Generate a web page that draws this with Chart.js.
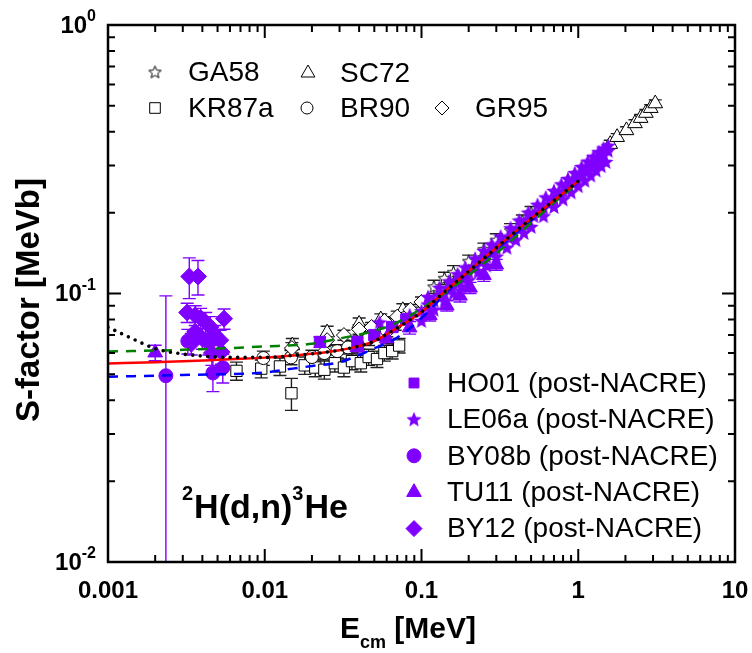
<!DOCTYPE html>
<html>
<head>
<meta charset="utf-8">
<script src="https://cdn.jsdelivr.net/npm/chart.js@4.4.1/dist/chart.umd.min.js"></script>
<style>
  html, body { margin: 0; padding: 0; background: #fff; }
</style>
</head>
<body>
<canvas id="chart" width="752" height="653"></canvas>
<script>
// ---- data (E in MeV, S in MeV b) ----
const GA58_E = [0.12, 0.14, 0.16, 0.2, 0.25, 0.3, 0.37, 0.44, 0.5];
const GA58_S = [0.106, 0.114, 0.12, 0.132, 0.146, 0.158, 0.172, 0.186, 0.2];
const GA58_ERR = [0.006, 0.006, 0.007, 0.007, 0.008, 0.009, 0.01, 0.01, 0.011];

const SC72_E = [0.015, 0.025, 0.04, 0.055, 0.076, 1.6, 1.77, 2.03, 2.3, 2.5, 2.7, 2.9, 3.1];
const SC72_S = [0.064, 0.0715, 0.077, 0.08, 0.0866, 0.36, 0.382, 0.405, 0.43, 0.45, 0.47, 0.49, 0.51];
const SC72_ERR = [0.004, 0.004, 0.004, 0.004, 0.005, 0.012, 0.012, 0.013, 0.014, 0.014, 0.015, 0.015, 0.016];

const KR87A_E = [0.0066, 0.0095, 0.0125, 0.0148, 0.018, 0.021, 0.024, 0.028, 0.032, 0.036, 0.041, 0.046, 0.052, 0.058, 0.065, 0.072];
const KR87A_S = [0.0515, 0.0525, 0.0535, 0.0425, 0.054, 0.053, 0.052, 0.055, 0.053, 0.056, 0.055, 0.058, 0.057, 0.060, 0.061, 0.064];
const KR87A_ERR = [0.004, 0.004, 0.004, 0.0058, 0.004, 0.004, 0.004, 0.004, 0.004, 0.004, 0.004, 0.004, 0.004, 0.004, 0.004, 0.004];

const BR90_E = [0.0098, 0.0147, 0.02, 0.024, 0.029, 0.034, 0.04, 0.046, 0.053, 0.06, 0.068, 0.078];
const BR90_S = [0.0575, 0.0578, 0.058, 0.06, 0.061, 0.063, 0.066, 0.068, 0.071, 0.073, 0.077, 0.081];
const BR90_ERR = [0.0035, 0.0035, 0.0035, 0.0035, 0.0035, 0.0035, 0.004, 0.004, 0.004, 0.004, 0.004, 0.004];

const GR95_E = [0.0149, 0.025, 0.032, 0.04, 0.048, 0.058, 0.07, 0.085, 0.1];
const GR95_S = [0.0626, 0.067, 0.07, 0.0735, 0.075, 0.079, 0.082, 0.087, 0.093];
const GR95_ERR = [0.003, 0.003, 0.003, 0.003, 0.003, 0.003, 0.004, 0.004, 0.004];

const HO01_E = [0.0225, 0.039, 0.05, 0.065, 0.08];
const HO01_S = [0.066, 0.066, 0.07, 0.075, 0.08];
const HO01_ERR = [0.003, 0.003, 0.003, 0.003, 0.003];

const LE06A_E = [
  0.054, 0.084, 0.1, 0.11, 0.12, 0.13, 0.14, 0.15, 0.16, 0.17, 0.18, 0.19, 0.2, 0.22, 0.24, 0.26, 0.28, 0.3,
  0.33, 0.36, 0.39, 0.42, 0.45, 0.48, 0.52, 0.56, 0.6, 0.65, 0.7, 0.75, 0.8, 0.86, 0.92, 0.98, 1.05, 1.12,
  1.2, 1.28, 1.36, 1.45, 1.55,
  0.1, 0.12, 0.14, 0.16, 0.18, 0.2, 0.23, 0.26, 0.3, 0.35, 0.4, 0.45, 0.5, 0.6, 0.7, 0.8, 0.9, 1.0, 1.1,
  1.2, 1.3, 1.4, 1.5,
  0.11, 0.13, 0.15, 0.17, 0.19, 0.22, 0.25, 0.28, 0.32, 0.37, 0.42, 0.48, 0.55, 0.62, 0.7, 0.78, 0.86,
  0.95, 1.05, 1.15, 1.25, 1.35, 1.45, 1.55
];
const LE06A_S = [
  0.078, 0.083, 0.086, 0.091, 0.094, 0.098, 0.1, 0.104, 0.108, 0.11, 0.114, 0.117, 0.12, 0.126, 0.131, 0.137, 0.142, 0.147,
  0.154, 0.161, 0.168, 0.174, 0.181, 0.187, 0.194, 0.201, 0.208, 0.216, 0.225, 0.233, 0.24, 0.249, 0.258, 0.266, 0.276, 0.285,
  0.296, 0.306, 0.316, 0.327, 0.34,
  0.079, 0.087, 0.094, 0.1, 0.106, 0.112, 0.12, 0.127, 0.137, 0.148, 0.158, 0.168, 0.177, 0.194, 0.21, 0.224, 0.238, 0.251, 0.263,
  0.275, 0.287, 0.298, 0.309,
  0.097, 0.105, 0.111, 0.118, 0.125, 0.135, 0.144, 0.152, 0.163, 0.175, 0.187, 0.2, 0.214, 0.228, 0.241, 0.255, 0.267,
  0.281, 0.296, 0.31, 0.323, 0.336, 0.347, 0.355
];

const BY08B_E = [0.00234, 0.00323, 0.00467, 0.0054];
const BY08B_S = [0.0494, 0.0665, 0.0506, 0.0529];
const BY08B_ERR = [0.0486, 0.007, 0.0075, 0.0065];

const TU11_E = [0.002, 0.039, 0.06, 0.084, 0.113, 0.145, 0.176, 0.204, 0.25, 0.3];
const TU11_S = [0.0602, 0.063, 0.068, 0.0746, 0.083, 0.09, 0.098, 0.105, 0.117, 0.128];
const TU11_ERR = [0.004, 0.003, 0.003, 0.004, 0.004, 0.004, 0.005, 0.005, 0.006, 0.006];

const BY12_E = [0.0033, 0.00375, 0.0032, 0.0036, 0.0039, 0.0042, 0.0045, 0.0055, 0.0036, 0.004, 0.0044, 0.0048, 0.0052, 0.0034, 0.0046, 0.0053];
const BY12_S = [0.1157, 0.1157, 0.085, 0.083, 0.081, 0.078, 0.075, 0.0806, 0.072, 0.068, 0.065, 0.07, 0.067, 0.065, 0.06, 0.0605];
const BY12_ERR = [0.02, 0.017, 0.007, 0.007, 0.007, 0.007, 0.007, 0.007, 0.006, 0.006, 0.006, 0.006, 0.006, 0.006, 0.006, 0.006];

// model curves
const RED_E = [0.001, 0.002, 0.003, 0.005, 0.007, 0.01, 0.015, 0.02, 0.03, 0.04, 0.05, 0.07, 0.1, 0.15, 0.2, 0.3, 0.5, 0.7, 1.0];
const RED_S = [0.0549, 0.0555, 0.0559, 0.0566, 0.0571, 0.0577, 0.0587, 0.0596, 0.0615, 0.0637, 0.0665, 0.0745, 0.0854, 0.105, 0.121, 0.148, 0.19, 0.222, 0.262];

const DOT_E = [0.001, 0.0015, 0.002, 0.003, 0.004, 0.005, 0.007, 0.01, 0.015, 0.02, 0.03, 0.04, 0.05, 0.07, 0.1, 0.15, 0.2, 0.3, 0.5, 0.7, 1.0];
const DOT_S = [0.0749, 0.067, 0.0623, 0.0595, 0.0585, 0.058, 0.0578, 0.0578, 0.0587, 0.0596, 0.0615, 0.0637, 0.0665, 0.0745, 0.0854, 0.105, 0.121, 0.148, 0.19, 0.222, 0.262];

const GREEN_E = [0.001, 0.003, 0.01, 0.02, 0.03, 0.05, 0.07, 0.1, 0.15, 0.2, 0.3, 0.5, 0.7, 1.0];
const GREEN_S = [0.0608, 0.0617, 0.0635, 0.065, 0.068, 0.0725, 0.078, 0.088, 0.103, 0.117, 0.141, 0.183, 0.218, 0.258];

const BLUE_E = [0.001, 0.003, 0.01, 0.015, 0.02, 0.03, 0.04, 0.05, 0.07, 0.1, 0.15, 0.2, 0.3, 0.5, 0.7, 1.0];
const BLUE_S = [0.049, 0.0497, 0.0508, 0.0525, 0.0537, 0.0555, 0.059, 0.0625, 0.0685, 0.081, 0.103, 0.12, 0.146, 0.187, 0.221, 0.26];

const X_TICKS = ["0.001", "0.01", "0.1", "1", "10"];
const Y_TICKS = [["10", "0"], ["10", "-1"], ["10", "-2"]];

const PURPLE = "#8000ff";
const FONT = "'Liberation Sans', Arial, sans-serif";

// five-pointed star marker as a small canvas
function starMarker(size, fill, stroke) {
  const c = document.createElement("canvas");
  c.width = size;
  c.height = size;
  const g = c.getContext("2d");
  const R = size / 2 - 1, r = R * 0.45, cx = size / 2, cy = size / 2 + 0.5;
  g.beginPath();
  for (let i = 0; i < 10; i++) {
    const rad = (i % 2 === 0 ? R : r);
    const a = -Math.PI / 2 + i * Math.PI / 5;
    g.lineTo(cx + rad * Math.cos(a), cy + rad * Math.sin(a));
  }
  g.closePath();
  g.fillStyle = fill;
  g.fill();
  if (stroke) {
    g.strokeStyle = stroke;
    g.lineWidth = 1;
    g.stroke();
  }
  return c;
}

const openStar = starMarker(15, "#fff", "#000");
const purpleStar = starMarker(18, PURPLE, null);

function pts(E, S, err) {
  return E.map((e, i) => ({ x: e, y: S[i], err: err ? err[i] : 0 }));
}

function openSet(label, E, S, err, style, radius) {
  return {
    label: label,
    data: pts(E, S, err),
    pointStyle: style,
    pointRadius: radius,
    pointBackgroundColor: "#fff",
    pointBorderColor: "#000",
    pointBorderWidth: 1,
    errColor: "#222",
    order: 3,
  };
}

function fullSet(label, E, S, err, style, radius) {
  return {
    label: label,
    data: pts(E, S, err),
    pointStyle: style,
    pointRadius: radius,
    pointBackgroundColor: PURPLE,
    pointBorderColor: PURPLE,
    pointBorderWidth: 1,
    errColor: PURPLE,
    order: 2,
  };
}

function curve(label, E, S, color, dash, width) {
  return {
    label: label,
    data: pts(E, S),
    showLine: true,
    pointRadius: 0,
    borderColor: color,
    borderWidth: width,
    borderDash: dash,
    borderCapStyle: dash.length && dash[0] === 0 ? "round" : "butt",
    cubicInterpolationMode: "monotone",
    order: 1,
  };
}

const datasets = [
  curve("dotted", DOT_E, DOT_S, "#000", [0, 7.5], 3.6),
  curve("red", RED_E, RED_S, "#ff0000", [], 2.5),
  curve("green", GREEN_E, GREEN_S, "#008000", [10, 8], 2.5),
  curve("blue", BLUE_E, BLUE_S, "#0000ff", [10, 8], 2.5),
  fullSet("BY12", BY12_E, BY12_S, BY12_ERR, "rectRot", 8.5),
  fullSet("TU11", TU11_E, TU11_S, TU11_ERR, "triangle", 8.5),
  fullSet("BY08b", BY08B_E, BY08B_S, BY08B_ERR, "circle", 7),
  fullSet("LE06a", LE06A_E, LE06A_S, null, purpleStar, 9),
  fullSet("HO01", HO01_E, HO01_S, HO01_ERR, "rect", 8),
  openSet("GR95", GR95_E, GR95_S, GR95_ERR, "rectRot", 7.5),
  openSet("BR90", BR90_E, BR90_S, BR90_ERR, "circle", 6.5),
  openSet("KR87a", KR87A_E, KR87A_S, KR87A_ERR, "rect", 8),
  openSet("SC72", SC72_E, SC72_S, SC72_ERR, "triangle", 8.5),
  openSet("GA58", GA58_E, GA58_S, GA58_ERR, openStar, 7.5),
];

// error bars behind the markers
const errorBars = {
  id: "errorBars",
  beforeDatasetsDraw(chart) {
    const ctx = chart.ctx, area = chart.chartArea;
    const ys = chart.scales.y;
    ctx.save();
    ctx.beginPath();
    ctx.rect(area.left, area.top, area.right - area.left, area.bottom - area.top);
    ctx.clip();
    chart.data.datasets.forEach((ds, di) => {
      if (!ds.errColor) return;
      const meta = chart.getDatasetMeta(di);
      ctx.strokeStyle = ds.errColor;
      ctx.lineWidth = 1.4;
      meta.data.forEach((el, i) => {
        const raw = ds.data[i];
        if (!raw.err) return;
        const top = ys.getPixelForValue(raw.y + raw.err);
        const low = raw.y - raw.err;
        const bot = low > 0.001 ? ys.getPixelForValue(low) : area.bottom + 20;
        const half = 6.5;
        ctx.beginPath();
        ctx.moveTo(el.x, top);
        ctx.lineTo(el.x, bot);
        ctx.moveTo(el.x - half, top);
        ctx.lineTo(el.x + half, top);
        ctx.moveTo(el.x - half, bot);
        ctx.lineTo(el.x + half, bot);
        ctx.stroke();
      });
    });
    ctx.restore();
  },
};

function marker(ctx, style, x, y, r, fill, stroke) {
  ctx.save();
  ctx.fillStyle = fill;
  ctx.strokeStyle = stroke;
  ctx.lineWidth = 1;
  Chart.helpers.drawPoint(ctx, { pointStyle: style, radius: r, rotation: 0, borderWidth: 1 }, x, y);
  ctx.restore();
}

// frame, inward ticks, labels and legends
const decor = {
  id: "decor",
  afterDraw(chart) {
    const ctx = chart.ctx, a = chart.chartArea;
    const xs = chart.scales.x, ys = chart.scales.y;
    ctx.save();
    ctx.strokeStyle = "#000";
    ctx.lineWidth = 2.5;
    ctx.strokeRect(a.left, a.top, a.right - a.left, a.bottom - a.top);

    ctx.lineWidth = 2;
    ctx.beginPath();
    for (let d = -3; d <= 0; d++) {
      for (let k = 1; k <= 9; k++) {
        const v = k * Math.pow(10, d);
        const px = xs.getPixelForValue(v);
        const len = k === 1 ? 13 : 7;
        ctx.moveTo(px, a.bottom); ctx.lineTo(px, a.bottom - len);
        ctx.moveTo(px, a.top); ctx.lineTo(px, a.top + len);
      }
    }
    for (let d = -2; d <= -1; d++) {
      for (let k = 1; k <= 9; k++) {
        const v = k * Math.pow(10, d);
        const py = ys.getPixelForValue(v);
        const len = k === 1 ? 13 : 7;
        ctx.moveTo(a.left, py); ctx.lineTo(a.left + len, py);
        ctx.moveTo(a.right, py); ctx.lineTo(a.right - len, py);
      }
    }
    ctx.stroke();

    // x tick labels
    ctx.fillStyle = "#000";
    ctx.font = "bold 24px " + FONT;
    ctx.textAlign = "center";
    ctx.textBaseline = "middle";
    X_TICKS.forEach((t) => {
      ctx.fillText(t, xs.getPixelForValue(parseFloat(t)), 591);
    });

    // y tick labels with superscripts
    Y_TICKS.forEach(([base, exp]) => {
      const py = ys.getPixelForValue(Math.pow(10, parseFloat(exp)));
      ctx.font = "bold 16px " + FONT;
      const ew = ctx.measureText(exp).width;
      ctx.textAlign = "right";
      ctx.fillText(exp, 96, py - 8);
      ctx.font = "bold 24px " + FONT;
      ctx.fillText(base, 96 - ew, py + 1);
    });

    // axis titles
    ctx.save();
    ctx.translate(30, 300);
    ctx.rotate(-Math.PI / 2);
    ctx.font = "bold 33px " + FONT;
    ctx.textAlign = "center";
    ctx.textBaseline = "middle";
    ctx.fillText("S-factor [MeVb]", 0, 0);
    ctx.restore();

    ctx.textAlign = "left";
    ctx.textBaseline = "alphabetic";
    let x = 340;
    ctx.font = "bold 30px " + FONT;
    ctx.fillText("E", x, 638);
    x += ctx.measureText("E").width;
    ctx.font = "bold 18px " + FONT;
    ctx.fillText("cm", x, 648);
    x += ctx.measureText("cm").width;
    ctx.font = "bold 30px " + FONT;
    ctx.fillText(" [MeV]", x, 638);

    // reaction label
    x = 182;
    ctx.font = "bold 20px " + FONT;
    ctx.fillText("2", x, 500);
    x += ctx.measureText("2").width + 1;
    ctx.font = "bold 34px " + FONT;
    ctx.fillText("H(d,n)", x, 518);
    x += ctx.measureText("H(d,n)").width;
    ctx.font = "bold 20px " + FONT;
    ctx.fillText("3", x, 500);
    x += ctx.measureText("3").width + 1;
    ctx.font = "bold 34px " + FONT;
    ctx.fillText("He", x, 518);

    // legend, top left (open symbols)
    ctx.font = "28px " + FONT;
    ctx.textBaseline = "middle";
    const topLeg = [
      [openStar, 155, 72, 7.5, "GA58", 188],
      ["triangle", 308, 73, 8, "SC72", 340],
      ["rect", 155, 108, 7.5, "KR87a", 188],
      ["circle", 307, 108, 6, "BR90", 340],
      ["rectRot", 442, 108, 7, "GR95", 475],
    ];
    topLeg.forEach(([st, mx, my, r, txt, tx]) => {
      marker(ctx, st, mx, my, r, "#fff", "#000");
      ctx.fillStyle = "#000";
      ctx.fillText(txt, tx, my + 1);
    });

    // legend, bottom right (post-NACRE data)
    const rightLeg = [
      ["rect", 7, "HO01 (post-NACRE)"],
      [purpleStar, 9, "LE06a (post-NACRE)"],
      ["circle", 7, "BY08b (post-NACRE)"],
      ["triangle", 8.5, "TU11 (post-NACRE)"],
      ["rectRot", 8, "BY12 (post-NACRE)"],
    ];
    rightLeg.forEach(([st, r, txt], i) => {
      const my = 383 + i * 36.4;
      marker(ctx, st, 414, my, r, PURPLE, PURPLE);
      ctx.fillStyle = "#000";
      ctx.fillText(txt, 447, my + 1);
    });
    ctx.restore();
  },
};

new Chart(document.getElementById("chart"), {
  type: "scatter",
  data: { datasets: datasets },
  options: {
    responsive: false,
    devicePixelRatio: 1,
    animation: false,
    layout: { padding: { left: 108, top: 25, right: 17, bottom: 91 } },
    plugins: { legend: { display: false }, tooltip: { enabled: false } },
    scales: {
      x: { type: "logarithmic", min: 0.001, max: 10, display: false },
      y: { type: "logarithmic", min: 0.01, max: 1, display: false },
    },
  },
  plugins: [errorBars, decor],
});
</script>
</body>
</html>
